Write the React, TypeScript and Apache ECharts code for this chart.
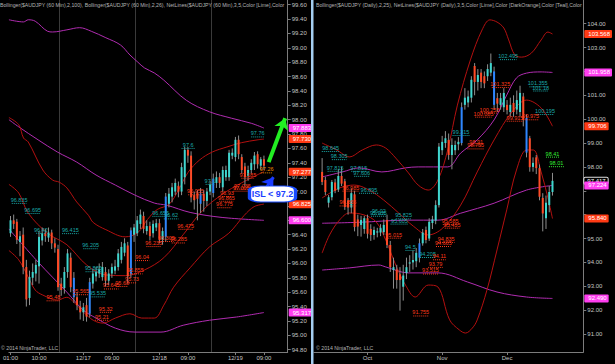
import React, { useEffect, useRef } from 'react';
import * as echarts from 'echarts';

const FONT = '"Liberation Sans", Arial, sans-serif';

// ---------- Left panel: AUDJPY 60 Min ----------
const leftXTickIdx = [0, 9, 23, 32, 47, 56, 71, 80];
const leftXTickText = ['01:00', '10:00', '12/17', '09:00', '12/18', '09:00', '12/19', '09:00'];
const leftSessionBreaks = [15.5, 39.5, 63.5];
const leftYTicks = [94.8, 95, 95.2, 95.4, 95.6, 95.8, 96, 96.2, 96.4, 96.6, 96.8, 97, 97.2, 97.4, 97.6, 97.8, 98, 98.2, 98.4, 98.6, 98.8, 99, 99.2, 99.4, 99.6];
// labels that are not hidden behind the price markers
const leftYLabels = [94.8, 95, 95.2, 95.4, 95.6, 95.8, 96, 96.2, 96.4, 97, 97.2, 97.4, 97.6, 97.8, 98, 98.2, 98.4, 98.6, 98.8, 99, 99.2, 99.4, 99.6];
const leftMarkerValues = [97.883, 97.73, 97.277, 96.825, 96.6, 95.317];
const leftMarkerKinds = ['m', 'r', 'r', 'r', 'm', 'm'];

// [open, high, low, close]
const leftOHLC = [
  [96.42, 96.66, 96.37, 96.6], [96.6, 96.68, 96.48, 96.55], [96.58, 96.62, 96.27, 96.33], [96.3, 96.45, 96.1, 96.38],
  [96.4, 96.5, 95.85, 95.95], [95.95, 96.05, 95.4, 95.5], [95.52, 95.9, 95.42, 95.81], [95.8, 96.0, 95.7, 95.88],
  [95.86, 96.05, 95.75, 95.98], [95.96, 96.45, 95.72, 96.37], [96.32, 96.5, 96.25, 96.42], [96.42, 96.48, 96.3, 96.38],
  [96.36, 96.5, 96.3, 96.43], [96.43, 96.47, 96.2, 96.28], [96.28, 96.35, 96.15, 96.22], [96.2, 96.26, 95.62, 95.67],
  [95.72, 95.8, 95.55, 95.63], [95.66, 95.95, 95.58, 95.88], [95.88, 96.2, 95.8, 96.14], [96.08, 96.15, 95.6, 95.67],
  [95.8, 95.88, 95.45, 95.53], [95.53, 95.6, 95.35, 95.42], [95.4, 95.48, 95.22, 95.32], [95.32, 95.45, 95.2, 95.39],
  [95.42, 95.52, 95.19, 95.26], [95.3, 95.8, 95.25, 95.74], [95.72, 95.92, 95.65, 95.86], [95.82, 95.95, 95.75, 95.88],
  [95.86, 96.0, 95.8, 95.92], [95.81, 96.02, 95.76, 95.95], [95.88, 95.95, 95.68, 95.76], [95.76, 95.92, 95.7, 95.86],
  [95.86, 96.0, 95.8, 95.95], [95.9, 96.05, 95.85, 95.96], [95.95, 96.2, 95.9, 96.14], [96.05, 96.3, 96.0, 96.23],
  [96.15, 96.35, 96.1, 96.28], [96.25, 96.3, 95.72, 95.82], [95.85, 96.5, 95.8, 96.46], [96.4, 96.55, 96.3, 96.5],
  [96.42, 96.66, 96.38, 96.6], [96.55, 96.75, 96.48, 96.68], [96.66, 96.72, 96.42, 96.48], [96.45, 96.6, 96.4, 96.52],
  [96.52, 96.58, 96.32, 96.38], [96.42, 96.6, 96.36, 96.55], [96.5, 96.62, 96.45, 96.56], [96.56, 96.62, 96.28, 96.33],
  [96.33, 96.5, 96.26, 96.45], [96.37, 96.98, 96.3, 96.93], [96.83, 97.05, 96.78, 96.97], [96.93, 97.12, 96.85, 97.06],
  [97.0, 97.18, 96.95, 97.12], [97.08, 97.14, 96.92, 97.0], [97.0, 97.4, 96.95, 97.34], [97.2, 97.62, 97.1, 97.58],
  [97.58, 97.62, 97.4, 97.5], [97.5, 97.56, 96.85, 96.92], [96.95, 97.0, 96.75, 96.88], [96.98, 97.02, 96.6, 96.9],
  [96.83, 97.05, 96.7, 96.97], [96.97, 97.02, 96.72, 96.87], [96.87, 97.05, 96.8, 97.0], [97.0, 97.15, 96.95, 97.1],
  [96.98, 97.25, 96.92, 97.18], [97.12, 97.28, 97.05, 97.2], [97.2, 97.26, 97.05, 97.12], [97.06, 97.35, 97.0, 97.3],
  [97.2, 97.36, 97.15, 97.3], [97.2, 97.58, 97.15, 97.54], [97.5, 97.6, 97.45, 97.54], [97.48, 97.76, 97.42, 97.72],
  [97.72, 97.78, 97.45, 97.52], [97.48, 97.52, 97.25, 97.3], [97.35, 97.4, 97.08, 97.2], [97.22, 97.36, 97.15, 97.3],
  [97.3, 97.45, 97.25, 97.4], [97.38, 97.55, 97.3, 97.5], [97.52, 97.56, 97.32, 97.38], [97.36, 97.48, 97.3, 97.45],
  [97.45, 97.5, 97.3, 97.36],
];
const leftBlue = [20, 25, 38, 49, 60, 64];

const leftUpper100 = [[-0.5, 99.39], [4.1, 99.36], [5.6, 99.39], [7.8, 99.37], [11.7, 99.23], [13.3, 99.22], [17.8, 99.25], [21.8, 99.28], [25.5, 99.23], [30.1, 99.14], [34.7, 99.04], [37.7, 98.9], [40.2, 98.8], [42.3, 98.72], [45.4, 98.65], [48.4, 98.55], [55.5, 98.27], [62.8, 98.11], [69.8, 98.02], [76, 97.95], [80, 97.883]];
const leftMid100 = [[-0.5, 98.0], [2.6, 97.9], [8.7, 97.72], [14.8, 97.55], [20.9, 97.41], [27, 97.23], [33.1, 97.09], [39.3, 96.95], [45.4, 96.84], [49.3, 96.81], [56.7, 96.71], [66.8, 96.64], [80, 96.6]];
const leftLower100 = [[-0.5, 96.48], [8.7, 96.02], [17.8, 95.6], [23, 95.35], [27, 95.24], [33.1, 95.1], [39.3, 95.045], [47.5, 95.045], [54.5, 95.14], [62.8, 95.21], [71.4, 95.255], [80, 95.317]];
const leftUpper26 = [[-0.5, 98.03], [2.6, 97.93], [4.1, 97.745], [5.6, 97.69], [10.2, 97.3], [13.3, 97.16], [15.4, 97.13], [17.8, 97.05], [20.9, 96.855], [24.6, 96.67], [26.1, 96.57], [30.1, 96.47], [36.2, 96.37], [40.2, 96.43], [43.2, 96.61], [46.3, 96.75], [50, 96.82], [53, 97.02], [56.1, 97.27], [59.7, 97.44], [63.7, 97.55], [68.3, 97.62], [72.9, 97.68], [78.1, 97.72], [80, 97.73]];
const leftMid26 = [[-0.5, 97.1], [2.6, 96.98], [5.6, 96.7], [11.7, 96.42], [17.8, 96.26], [24, 95.98], [30.1, 95.84], [36.2, 95.83], [42.3, 95.91], [48.4, 96.08], [54.5, 96.4], [60.7, 96.74], [66.8, 96.96], [72.9, 97.12], [80, 97.277]];
const leftLower26 = [[-0.5, 96.18], [2.6, 96.05], [5.6, 95.81], [7.8, 95.63], [10.2, 95.56], [14.8, 95.49], [17.8, 95.53], [20, 95.46], [23.1, 95.32], [26.1, 95.21], [29.2, 95.17], [33.1, 95.24], [37.7, 95.3], [41.4, 95.24], [45.4, 95.24], [48.4, 95.42], [51.5, 95.67], [56.7, 95.94], [62.8, 96.23], [68.9, 96.42], [73.8, 96.67], [76.9, 96.79], [80, 96.825]];

const leftNetLabels = ['96.835', '96.695', '96.42', '96.415', '96.205', '95.885', '95.535', '96.655', '96.62', '97.6', '97.1', '97.76',
  '95.48', '95.565', '95.32', '95.21', '95.645', '95.68', '95.73', '95.855', '96.04', '96.235', '96.305', '96.285', '96.475', '96.955', '96.775', '96.865', '96.93', '97.005', '97.035', '97.185',
  '97.26'];
const leftNetStart = [0.4, 4.7, 8.1, 16.3, 23, 23.7, 25.2, 44.8, 48.4, 54, 61.6, 76,
  11.4, 19.7, 28.2, 26.7, 29.5, 33.4, 36.8, 37.1, 39.3, 42.9, 46.9, 50.9, 53, 56.1, 65.3, 65.9, 66.8, 70.4, 70.8, 72.9,
  79];
const leftNetEnd = [5, 9.3, 11.1, 21.5, 27.6, 28.6, 29.8, 50, 53, 58.2, 64.3, 80,
  15.7, 24.6, 31.9, 31, 34.1, 37.1, 39.9, 41.7, 43.8, 47.5, 51.5, 55.2, 57.6, 60.7, 69.8, 70.4, 69.8, 75.3, 75.6, 76.9,
  82.7];
const leftNetKind = ['t', 't', 't', 't', 't', 't', 't', 't', 't', 't', 't', 't',
  'r', 'r', 'r', 'r', 'r', 'r', 'r', 'r', 'r', 'r', 'r', 'r', 'r', 'r', 'r', 'r', 'r', 'r', 'r', 'r',
  'o'];

const greenArrow = [[81.5, 97.41], [86.7, 98.02]];
const blueArrow = [[80.8, 97.06], [83, 97.2]];
const islBox = [82.7, 96.966];
const islText = 'ISL < 97.2';

// ---------- Right panel: AUDJPY Daily ----------
const rightXTickIdx = [16, 39, 59];
const rightXTickText = ['Oct', 'Nov', 'Dec'];
const rightYTicks = [91, 92, 93, 94, 95, 96, 97, 98, 99, 100, 101, 102, 103, 104];
const rightYLabels = [91, 92, 93, 94, 95, 98, 99, 100, 101, 103, 104];
const rightMarkerValues = [103.568, 101.958, 99.706, 97.417, 97.224, 95.84, 92.49];
const rightMarkerKinds = ['r', 'm', 'r', 'k', 'm', 'r', 'm'];
const rightStart = 2;

const rightOHLC = [
  [97.79, 98.37, 97.24, 97.37], [97.45, 97.58, 96.82, 96.95], [96.5, 96.82, 96.3, 96.73], [96.73, 97.45, 96.6, 97.37],
  [97.35, 97.5, 96.9, 97.0], [97.05, 97.9, 96.95, 97.62], [97.62, 98.0, 97.2, 97.3], [97.4, 97.5, 96.2, 96.32],
  [96.6, 96.7, 96.0, 96.3], [96.3, 97.1, 96.06, 96.9], [96.85, 97.0, 95.3, 95.48], [95.8, 96.0, 95.1, 95.5],
  [95.57, 95.95, 95.08, 95.78], [95.4, 95.95, 95.2, 95.85], [95.85, 96.0, 95.0, 95.2], [95.4, 95.6, 94.9, 95.15],
  [95.15, 95.5, 94.95, 95.36], [95.25, 95.45, 95.05, 95.3], [95.25, 95.6, 95.1, 95.45], [95.27, 95.8, 95.15, 95.57],
  [95.78, 96.0, 94.6, 94.73], [94.73, 94.9, 93.6, 93.8], [93.68, 94.2, 92.9, 93.8], [93.7, 93.9, 92.9, 93.26],
  [93.5, 93.8, 91.98, 93.26], [92.98, 93.9, 92.4, 93.45], [93.55, 94.2, 93.3, 93.8], [93.95, 94.3, 93.6, 94.0],
  [94.0, 94.5, 93.7, 94.1], [94.05, 94.6, 93.8, 94.4], [94.2, 95.0, 94.0, 94.8], [94.8, 95.4, 94.7, 95.25],
  [95.36, 95.5, 94.8, 94.94], [95.0, 95.85, 94.9, 95.7], [95.65, 95.95, 95.4, 95.8], [95.75, 96.6, 95.6, 96.4],
  [96.4, 99.0, 96.3, 98.85], [98.7, 99.3, 98.5, 99.05], [99.0, 99.5, 98.8, 99.2], [99.13, 99.4, 98.3, 98.5],
  [98.5, 99.2, 97.9, 98.92], [98.7, 99.1, 98.5, 98.92], [98.95, 99.25, 98.7, 99.05], [99.0, 100.7, 98.9, 100.5],
  [100.6, 101.3, 100.4, 100.9], [100.7, 101.2, 100.5, 100.95], [100.9, 101.8, 100.7, 101.65], [102.23, 102.35, 101.0, 101.56],
  [101.56, 102.1, 101.2, 101.85], [101.95, 102.1, 101.3, 101.56], [101.8, 102.0, 101.3, 101.5], [101.8, 102.3, 101.6, 102.1],
  [101.95, 102.75, 101.8, 102.35], [102.0, 102.2, 100.4, 100.6], [100.88, 101.1, 100.3, 100.65], [100.6, 101.1, 100.4, 100.88],
  [100.5, 101.3, 100.3, 101.1], [100.6, 100.8, 100.2, 100.38], [100.3, 100.9, 100.1, 100.6], [100.68, 101.0, 100.1, 100.3],
  [100.4, 101.2, 100.2, 100.8], [100.3, 101.4, 100.1, 101.1], [100.95, 101.1, 99.7, 99.97], [100.05, 100.2, 98.4, 98.6],
  [99.2, 99.3, 97.8, 97.99], [98.0, 98.4, 97.8, 98.17], [98.4, 98.5, 97.7, 97.95], [97.95, 98.1, 96.6, 96.75],
  [96.7, 96.9, 95.3, 96.05], [95.85, 96.8, 95.4, 96.5], [96.4, 97.2, 96.1, 96.95], [96.95, 97.75, 96.8, 97.417],
];
const rightBlue = [32, 45, 55, 65];

const rightUpperM = [[2, 97.58], [8.3, 97.79], [13.4, 97.96], [20.4, 97.79], [27.7, 97.96], [31.6, 98.0], [40.7, 98.0], [44.7, 98.58], [49.8, 99.13], [55, 99.97], [58.9, 101.01], [61.9, 101.73], [65, 101.93], [69.5, 101.98], [73, 101.958]];
const rightMidM = [[2, 95.64], [13.4, 95.68], [28.6, 95.77], [37.7, 95.77], [44.7, 96.06], [55, 96.48], [65, 97.03], [73, 97.224]];
const rightLowerM = [[2, 93.68], [10.4, 93.77], [19.5, 93.89], [21.6, 93.81], [28.6, 93.56], [37.7, 93.56], [46.8, 93.18], [55.9, 92.76], [65, 92.55], [73, 92.49]];
const rightUpperR = [[2, 99.0], [6.5, 98.71], [10.4, 98.42], [14.4, 98.71], [18.7, 98.92], [21.6, 98.79], [24.7, 98.37], [28.6, 97.75], [31.6, 97.24], [34.7, 97.03], [37.7, 97.45], [40.7, 98.71], [43.7, 100.59], [47.7, 102.48], [51.3, 103.74], [53.7, 104.16], [55.9, 104.07], [58, 103.82], [59.5, 103.32], [61.4, 102.69], [63.5, 102.6], [66.5, 102.77], [69.5, 103.32], [71.6, 103.65], [73, 103.568]];
const rightMidR = [[2, 96.7], [7.4, 97.12], [11.9, 97.24], [16.5, 97.03], [21, 96.61], [25.6, 96.07], [30.1, 95.52], [34.7, 95.15], [39.2, 95.44], [44.7, 96.4], [49.8, 97.79], [55, 99.13], [60.5, 100.3], [65, 100.8], [69.5, 100.47], [73, 99.706]];
const rightLowerR = [[2, 94.39], [4.3, 95.15], [7.4, 95.78], [10.4, 96.07], [14.9, 95.99], [18.7, 95.69], [21.6, 94.94], [24.7, 93.89], [27.7, 93.05], [30.7, 92.55], [34.7, 93.05], [37.7, 92.97], [41.3, 91.59], [44.3, 91.17], [46.2, 91.04], [48.3, 91.25], [49.8, 91.59], [52.8, 92.84], [55.9, 94.52], [58.9, 96.2], [61.9, 97.87], [65, 98.71], [67.1, 98.71], [69.5, 97.79], [71.6, 96.7], [73, 95.84]];

const rightNetLabels = ['98.645', '98.305', '97.815', '97.815', '97.606', '96.895', '96.02', '95.935', '95.825', '95.605', '94.5', '94.205', '99.315', '102.495', '101.355', '101.18', '100.195',
  '98.41', '98.01',
  '96.985', '96.365', '95.015', '93.515', '91.755', '94.835', '94.665', '94.11', '93.79', '95.585', '95.435', '98.91', '98.755', '100.255', '100.085', '101.325', '99.915', '99.975'];
const rightNetStart = [1.9, 5, 3.7, 11, 11.9, 13.4, 17.4, 17.1, 24.7, 23.1, 27.7, 32.2, 42.2, 56.8, 65.9, 67.1, 68,
  71, 71.9,
  8.3, 7.4, 21.6, 33.1, 30.1, 37.7, 37.1, 36.2, 34.7, 39.2, 39.8, 47.7, 46.8, 51.3, 49.2, 54.3, 58.9, 64];
const rightNetEnd = [7.4, 9.5, 8.3, 15.6, 16.5, 19.5, 21.6, 21.6, 29.5, 28.6, 30.7, 36.8, 47.4, 61.9, 71, 71.6, 73.4,
  75, 76.5,
  13.4, 12.5, 26.5, 37.7, 34.7, 42.8, 41.6, 40.1, 39.2, 43.7, 44.3, 51.3, 51.9, 55.9, 54.3, 59.5, 64, 68.6];
const rightNetKind = ['t', 't', 't', 't', 't', 't', 't', 't', 't', 't', 't', 't', 't', 't', 't', 't', 't',
  'l', 'l',
  'r', 'r', 'r', 'r', 'r', 'r', 'r', 'r', 'r', 'r', 'r', 'r', 'r', 'r', 'r', 'r', 'r', 'r'];

const leftTitle = 'Bollinger($AUDJPY (60 Min),2,100), Bollinger($AUDJPY (60 Min),2,26), NetLines($AUDJPY (60 Min),3,5,Color [Lime],Color';
const rightTitle = 'Bollinger($AUDJPY (Daily),2,25), NetLines($AUDJPY (Daily),3,5,Color [Lime],Color [DarkOrange],Color [Teal],Color';
const copyright = '© 2014 NinjaTrader, LLC';

// ---------- styling ----------
const UP = '#3fd6cf';
const DOWN = '#ff4a26';
const BLUE = '#2d86ff';
const WICK = '#8e8e8e';
const MAGENTA = '#b02cb0';
const DARKRED = '#b31010';
const AXIS = '#7c7c7c';
const LABEL = '#c4c4c4';
const NET_COLORS: Record<string, string> = { t: '#1aa9a9', r: '#ff3a1a', l: '#33ee33', o: '#ee8c00' };
const MARKER_RICH = {
  m: { backgroundColor: '#ff3ef0', color: '#ffffff', fontSize: 6, padding: [1, 2, 1, 4], borderRadius: 1, fontFamily: FONT },
  r: { backgroundColor: '#ff3a14', color: '#ffffff', fontSize: 6, padding: [1, 2, 1, 4], borderRadius: 1, fontFamily: FONT },
  k: { backgroundColor: '#000000', color: '#ffffff', borderColor: '#e0e0e0', borderWidth: 1, fontSize: 6, padding: [0, 2, 0, 3], borderRadius: 1, fontFamily: FONT },
};

function candleData(rows: number[][], start: number, blue: number[]) {
  return rows.map((r, i) => [start + i, r[0], r[3], r[2], r[1], blue.indexOf(start + i) >= 0 ? 1 : 0]);
}

function renderCandle(params: any, api: any) {
  const x = api.value(0);
  const o = api.value(1), c = api.value(2), l = api.value(3), h = api.value(4), flag = api.value(5);
  const pO = api.coord([x, o]);
  const pC = api.coord([x, c]);
  const pL = api.coord([x, l]);
  const pH = api.coord([x, h]);
  const w = Math.max(1.5, api.size([1, 0])[0] * 0.62);
  const top = Math.min(pO[1], pC[1]);
  const hgt = Math.max(1, Math.abs(pO[1] - pC[1]));
  const color = flag === 1 ? BLUE : c >= o ? UP : DOWN;
  return {
    type: 'group',
    children: [
      { type: 'line', shape: { x1: pH[0], y1: pH[1], x2: pL[0], y2: pL[1] }, style: { stroke: WICK, lineWidth: 1 } },
      { type: 'rect', shape: { x: pO[0] - w / 2, y: top, width: w, height: hgt }, style: { fill: color } },
    ],
  };
}

function makeNetRender(labels: string[], kinds: string[]) {
  return (params: any, api: any) => {
    const x1 = api.value(0), x2 = api.value(1), v = api.value(2);
    const p1 = api.coord([x1, v]);
    const p2 = api.coord([x2, v]);
    const col = NET_COLORS[kinds[params.dataIndex]];
    return {
      type: 'group',
      children: [
        { type: 'line', shape: { x1: p1[0], y1: p1[1], x2: p2[0], y2: p2[1] }, style: { stroke: col, lineWidth: 1, lineDash: [1, 1] } },
        { type: 'text', x: (p1[0] + p2[0]) / 2, y: p1[1] - 0.5, style: { text: labels[params.dataIndex], fill: col, fontSize: 5.5, fontFamily: FONT, align: 'center', verticalAlign: 'bottom' } },
      ],
    };
  };
}

function netData(starts: number[], ends: number[], labels: string[]) {
  return starts.map((s, i) => [s, ends[i], parseFloat(labels[i])]);
}

function markerFormatter(values: number[], kinds: string[]) {
  return (v: number) => {
    const i = values.indexOf(v);
    if (i < 0) return '';
    return `{${kinds[i]}|${v.toFixed(3)}}`;
  };
}

function band(data: number[][], color: string, xi: number, yi: number) {
  return { type: 'line', xAxisIndex: xi, yAxisIndex: yi, data, smooth: 0.35, showSymbol: false, symbol: 'none', silent: true, z: 1, lineStyle: { color, width: 1 } };
}

function xAxisCfg(grid: number, min: number, max: number, ticks: number[], texts: string[]) {
  return {
    type: 'value', gridIndex: grid, min, max,
    axisLine: { show: true, onZero: false, lineStyle: { color: AXIS, width: 1 } },
    axisTick: { show: true, customValues: ticks, length: 3, lineStyle: { color: AXIS } },
    axisLabel: { customValues: ticks, formatter: (v: number) => texts[ticks.indexOf(v)] ?? '', color: LABEL, fontSize: 6, margin: 3, fontFamily: FONT },
    splitLine: { show: false },
  };
}

function yAxisCfg(grid: number, min: number, max: number, ticks: number[], labels: number[]) {
  return {
    type: 'value', gridIndex: grid, position: 'right', min, max,
    axisLine: { show: true, onZero: false, lineStyle: { color: AXIS, width: 1 } },
    axisTick: { show: true, customValues: ticks, length: 3, lineStyle: { color: AXIS } },
    axisLabel: { customValues: labels, formatter: (v: number) => v.toFixed(2), color: LABEL, fontSize: 6, margin: 4, fontFamily: FONT },
    splitLine: { show: false },
  };
}

function markerAxisCfg(grid: number, min: number, max: number, values: number[], kinds: string[]) {
  return {
    type: 'value', gridIndex: grid, position: 'right', min, max, z: 3,
    axisLine: { show: false, onZero: false },
    axisTick: { show: false },
    axisLabel: { customValues: values, formatter: markerFormatter(values, kinds), rich: MARKER_RICH, margin: 1 },
    splitLine: { show: false },
  };
}

const L_MIN = 94.768, L_MAX = 99.665;
const R_MIN = 90.246, R_MAX = 104.993;

const option: any = {
  animation: false,
  backgroundColor: '#000000',
  textStyle: { fontFamily: FONT },
  grid: [
    { left: 0, top: 0, width: 287.7, height: 352 },
    { left: 314, top: 0, width: 275, height: 352 },
  ],
  xAxis: [
    xAxisCfg(0, -0.5, 87.5, leftXTickIdx, leftXTickText),
    xAxisCfg(1, -0.5, 82.5, rightXTickIdx, rightXTickText),
  ],
  yAxis: [
    yAxisCfg(0, L_MIN, L_MAX, leftYTicks, leftYLabels),
    markerAxisCfg(0, L_MIN, L_MAX, leftMarkerValues, leftMarkerKinds),
    yAxisCfg(1, R_MIN, R_MAX, rightYTicks, rightYLabels),
    markerAxisCfg(1, R_MIN, R_MAX, rightMarkerValues, rightMarkerKinds),
  ],
  graphic: [
    { type: 'rect', x: 311, y: 0, shape: { x: 0, y: 0, width: 2.5, height: 364 }, style: { fill: '#a4cdf0' }, z: 10 },
    { type: 'text', x: 0, y: 2, style: { text: leftTitle, fill: '#b4b4b4', fontSize: 5.2, fontFamily: FONT }, z: 10 },
    { type: 'text', x: 316, y: 2, style: { text: rightTitle, fill: '#b4b4b4', fontSize: 5.2, fontFamily: FONT }, z: 10 },
    { type: 'text', x: 1, y: 345, style: { text: copyright, fill: '#b4b4b4', fontSize: 5.2, fontFamily: FONT }, z: 10 },
    { type: 'text', x: 316, y: 345, style: { text: copyright, fill: '#b4b4b4', fontSize: 5.2, fontFamily: FONT }, z: 10 },
  ],
  series: [
    band(leftUpper100, MAGENTA, 0, 0),
    band(leftMid100, MAGENTA, 0, 0),
    band(leftLower100, MAGENTA, 0, 0),
    band(leftUpper26, DARKRED, 0, 0),
    band(leftMid26, DARKRED, 0, 0),
    band(leftLower26, DARKRED, 0, 0),
    {
      type: 'custom', xAxisIndex: 0, yAxisIndex: 0, z: 3,
      renderItem: renderCandle,
      data: candleData(leftOHLC, 0, leftBlue),
      encode: { x: 0, y: [1, 2, 3, 4] },
      markLine: {
        silent: true, symbol: ['none', 'none'], z: 0, label: { show: false },
        lineStyle: { color: '#3a3a3a', type: 'solid', width: 1 },
        data: leftSessionBreaks.map((v) => ({ xAxis: v })),
      },
    },
    {
      type: 'custom', xAxisIndex: 0, yAxisIndex: 0, z: 4, clip: false,
      renderItem: makeNetRender(leftNetLabels, leftNetKind),
      data: netData(leftNetStart, leftNetEnd, leftNetLabels),
      encode: { x: [0, 1], y: 2 },
      markLine: {
        silent: true, symbol: ['none', 'arrow'], symbolSize: 11, z: 8, label: { show: false },
        data: [
          [{ coord: greenArrow[0], lineStyle: { color: '#22ee22', width: 4, type: 'solid' } }, { coord: greenArrow[1] }],
          [{ coord: blueArrow[0], lineStyle: { color: '#1a3cff', width: 3, type: 'solid' } }, { coord: blueArrow[1] }],
        ],
      },
      markPoint: {
        silent: true, z: 12,
        data: [{
          coord: islBox, symbol: 'roundRect', symbolSize: [46, 16],
          itemStyle: { color: '#ffffff', borderColor: '#1a4cff', borderWidth: 2 },
          label: { show: true, position: 'inside', formatter: islText, color: '#1a40ff', fontSize: 9, fontWeight: 'bold', fontFamily: FONT },
        }],
      },
    },
    band(rightUpperM, MAGENTA, 1, 2),
    band(rightMidM, MAGENTA, 1, 2),
    band(rightLowerM, MAGENTA, 1, 2),
    band(rightUpperR, DARKRED, 1, 2),
    band(rightMidR, DARKRED, 1, 2),
    band(rightLowerR, DARKRED, 1, 2),
    {
      type: 'custom', xAxisIndex: 1, yAxisIndex: 2, z: 3,
      renderItem: renderCandle,
      data: candleData(rightOHLC, rightStart, rightBlue),
      encode: { x: 0, y: [1, 2, 3, 4] },
    },
    {
      type: 'custom', xAxisIndex: 1, yAxisIndex: 2, z: 4, clip: false,
      renderItem: makeNetRender(rightNetLabels, rightNetKind),
      data: netData(rightNetStart, rightNetEnd, rightNetLabels),
      encode: { x: [0, 1], y: 2 },
    },
  ],
};

export default function App() {
  const ref = useRef<HTMLDivElement>(null);
  useEffect(() => {
    const chart = echarts.init(ref.current as HTMLDivElement, null, { renderer: 'svg' });
    chart.setOption(option);
    return () => chart.dispose();
  }, []);
  return <div ref={ref} style={{ position: 'fixed', left: 0, top: 0, width: 615, height: 364, background: '#000' }} />;
}
